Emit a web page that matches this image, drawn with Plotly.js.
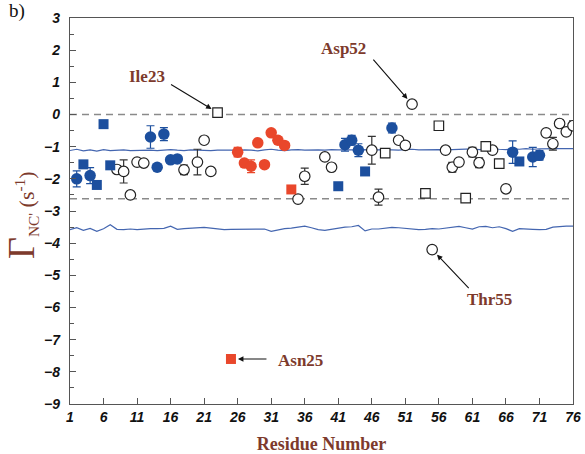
<!DOCTYPE html>
<html>
<head>
<meta charset="utf-8">
<script src="https://cdn.plot.ly/plotly-3.0.1.min.js"></script>
<style>html,body{margin:0;padding:0;background:#fff;}#chart{width:585px;height:454px;}</style>
</head>
<body>
<div id="chart"></div>
<script>
// ---- data ----
const blueCircleRes = [2, 4, 13, 14, 15, 16, 17, 42, 43, 44, 49, 67, 70, 71];
const blueCircleVal = [-2.0, -1.9, -0.70, -1.64, -0.61, -1.41, -1.38, -0.94, -0.80, -1.11, -0.42, -1.17, -1.32, -1.27];
const blueCircleErr = [0.25, 0.25, 0.35, 0.05, 0.2, 0.1, 0.05, 0.2, 0.15, 0.2, 0.15, 0.35, 0.3, 0.15];

const blueSquareRes = [3, 5, 6, 7, 41, 45, 68];
const blueSquareVal = [-1.55, -2.19, -0.30, -1.58, -2.23, -1.77, -1.46];

const redCircleRes = [26, 27, 28, 29, 30, 31, 32, 33];
const redCircleVal = [-1.17, -1.51, -1.61, -0.88, -1.56, -0.57, -0.80, -0.96];
const redCircleErr = [0.15, 0.05, 0.2, 0.05, 0.05, 0.05, 0.1, 0.05];

const redSquareRes = [25, 34];
const redSquareVal = [-7.6, -2.33];
const redSquareErr = [0.08, 0.08];

const openCircleRes = [8, 9, 10, 11, 12, 18, 20, 21, 22, 35, 36, 39, 40, 46, 47, 50, 51, 52, 55, 57, 58, 59, 61, 62, 64, 66, 72, 73, 74, 75, 76];
const openCircleVal = [-1.71, -1.77, -2.5, -1.48, -1.51, -1.72, -1.48, -0.80, -1.77, -2.63, -1.92, -1.32, -1.64, -1.11, -2.57, -0.80, -0.96, 0.32, -4.2, -1.11, -1.64, -1.48, -1.17, -1.50, -1.11, -2.31, -0.57, -0.91, -0.28, -0.54, -0.35];
const openCircleErr = [0.05, 0.36, 0.05, 0.1, 0.05, 0.15, 0.4, 0.05, 0.05, 0.05, 0.25, 0.05, 0.05, 0.43, 0.25, 0.05, 0.1, 0.05, 0.1, 0.05, 0.15, 0.05, 0.15, 0.15, 0.05, 0.05, 0.05, 0.2, 0.05, 0.05, 0.15];

const openSquareRes = [23, 48, 54, 56, 60, 63, 65];
const openSquareVal = [0.06, -1.2, -2.45, -0.35, -2.6, -0.99, -1.53];
const openSquareErr = [0.05, 0.05, 0.1, 0.05, 0.08, 0.05, 0.05];

const lineRes = Array.from({length: 76}, (_, i) => i + 1);
const upperLine = [
  -1.12, -1.08, -1.13, -1.10, -1.14, -1.09, -1.12, -1.11, -1.10, -1.12,
  -1.11, -1.10, -1.11, -1.12, -1.10, -1.09, -1.11, -1.12, -1.10, -1.11,
  -1.10, -1.12, -1.11, -1.10, -1.11, -1.12, -1.10, -1.11, -1.13, -1.10,
  -1.08, -1.11, -1.12, -1.10, -1.09, -1.11, -1.10, -1.10, -1.11, -1.09,
  -1.10, -1.11, -1.10, -1.09, -1.10, -1.11, -1.10, -1.09, -1.10, -1.11,
  -1.09, -1.08, -1.10, -1.09, -1.08, -1.09, -1.10, -1.09, -1.08, -1.09,
  -1.07, -1.09, -1.08, -1.06, -1.08, -1.09, -1.07, -1.08, -1.06, -1.08,
  -1.07, -1.06, -1.07, -1.06, -1.06, -1.06];
const lowerLine = [
  -3.58, -3.52, -3.60, -3.54, -3.63, -3.55, -3.43, -3.57, -3.58, -3.56,
  -3.58, -3.56, -3.55, -3.55, -3.54, -3.47, -3.57, -3.55, -3.53, -3.53,
  -3.51, -3.53, -3.55, -3.58, -3.57, -3.57, -3.56, -3.58, -3.57, -3.56,
  -3.63, -3.58, -3.55, -3.53, -3.50, -3.47, -3.52, -3.58, -3.60, -3.56,
  -3.52, -3.50, -3.49, -3.45, -3.62, -3.56, -3.56, -3.53, -3.51, -3.52,
  -3.54, -3.56, -3.58, -3.57, -3.55, -3.56, -3.54, -3.52, -3.48, -3.52,
  -3.56, -3.49, -3.48, -3.52, -3.49, -3.55, -3.63, -3.55, -3.57, -3.57,
  -3.58, -3.57, -3.50, -3.48, -3.47, -3.47];

const dashLevels = [0, -2.62];
const xTicks = [1, 6, 11, 16, 21, 26, 31, 36, 41, 46, 51, 56, 61, 66, 71, 76];

const labelNames = ['Ile23', 'Asp52', 'Thr55', 'Asn25'];
const labelRes = [23, 52, 55, 25];
const labelVal = [0.06, 0.32, -4.2, -7.6];

// ---- styles ----
const BLUE = '#1c4f9e', RED = '#e9472b', LINE = '#4466b0', BROWN = '#7d3a2c';
const SERIF = 'Liberation Serif, Times New Roman, serif';

function errs(arr, color) {
  return {type: 'data', array: arr, visible: true, color: color, thickness: 1.2, width: 4};
}

const traces = [
  {x: lineRes, y: upperLine, mode: 'lines', line: {color: LINE, width: 1.2}, hoverinfo: 'skip'},
  {x: lineRes, y: lowerLine, mode: 'lines', line: {color: LINE, width: 1.2}, hoverinfo: 'skip'},
  {x: openCircleRes, y: openCircleVal, mode: 'markers', error_y: errs(openCircleErr, '#333'),
   marker: {symbol: 'circle', size: 10.5, color: '#fff', line: {color: '#222', width: 1.2}}},
  {x: openSquareRes, y: openSquareVal, mode: 'markers', error_y: errs(openSquareErr, '#333'),
   marker: {symbol: 'square', size: 9.5, color: '#fff', line: {color: '#222', width: 1.2}}},
  {x: blueCircleRes, y: blueCircleVal, mode: 'markers', error_y: errs(blueCircleErr, BLUE),
   marker: {symbol: 'circle', size: 11.5, color: BLUE}},
  {x: blueSquareRes, y: blueSquareVal, mode: 'markers',
   marker: {symbol: 'square', size: 10, color: BLUE}},
  {x: redCircleRes, y: redCircleVal, mode: 'markers', error_y: errs(redCircleErr, RED),
   marker: {symbol: 'circle', size: 11.5, color: RED}},
  {x: redSquareRes, y: redSquareVal, mode: 'markers', error_y: errs(redSquareErr, RED),
   marker: {symbol: 'square', size: 10, color: RED}}
];

const shapes = dashLevels.map(v => ({
  type: 'line', xref: 'paper', x0: 0, x1: 1, yref: 'y', y0: v, y1: v,
  line: {color: '#8a8a8a', width: 1.6, dash: '7px,5px'}, layer: 'below'
}));

// arrow tail offsets (pixels) and text positions
const arrowAx = [-48, -40, 38, 37];
const arrowAy = [-29, -46, 40, 0];
const textX = [12.5, 41.8, 63.6, 35.3];
const textY = [1.19, 2.06, -5.75, -7.66];

const annotations = [];
labelNames.forEach((n, i) => {
  annotations.push({x: labelRes[i], y: labelVal[i], xref: 'x', yref: 'y', text: '',
    showarrow: true, arrowhead: 2, arrowsize: 1, arrowwidth: 1.1, arrowcolor: '#111',
    standoff: 7, ax: arrowAx[i], ay: arrowAy[i]});
  annotations.push({x: textX[i], y: textY[i], xref: 'x', yref: 'y', text: n, showarrow: false,
    font: {family: SERIF, size: 17, color: BROWN, weight: 'bold'}});
});
annotations.push({x: -0.125, y: 1.018, xref: 'paper', yref: 'paper', xanchor: 'left', yanchor: 'middle',
  text: 'b)', showarrow: false, font: {family: SERIF, size: 19, color: '#111'}});
annotations.push({x: -0.097, y: 0.49, xref: 'paper', yref: 'paper', textangle: -90,
  xanchor: 'center', yanchor: 'middle',
  text: '<span style="font-size:38px">Γ</span><sub>NC\'</sub> (s<sup>-1</sup>)', showarrow: false,
  font: {family: SERIF, size: 22, color: BROWN}});

const tickFont = {family: 'Liberation Sans, Arial, sans-serif', size: 14, color: '#111', weight: 'bold', style: 'italic'};

const layout = {
  width: 585, height: 454,
  margin: {l: 70, r: 12, t: 18, b: 50},
  paper_bgcolor: '#fff', plot_bgcolor: '#fff',
  showlegend: false,
  xaxis: {
    range: [1, 76], tickvals: xTicks, ticktext: xTicks.map(String),
    ticks: 'inside', ticklen: 6, tickcolor: '#555', showgrid: false, zeroline: false,
    showline: true, linecolor: '#555', linewidth: 1.2, mirror: true,
    tickfont: tickFont,
    title: {text: 'Residue Number', standoff: 14,
      font: {family: SERIF, size: 18, color: BROWN, weight: 'bold'}}
  },
  yaxis: {
    range: [-9, 3], dtick: 1, tick0: 0,
    ticks: 'inside', ticklen: 6, tickcolor: '#555', showgrid: false, zeroline: false,
    minor: {dtick: 0.5, ticks: 'inside', ticklen: 4, tickcolor: '#555'},
    showline: true, linecolor: '#555', linewidth: 1.2, mirror: true,
    tickfont: tickFont, ticklabelstandoff: 6
  },
  shapes: shapes,
  annotations: annotations
};

Plotly.newPlot('chart', traces, layout, {displayModeBar: false, staticPlot: true});
</script>
</body>
</html>
